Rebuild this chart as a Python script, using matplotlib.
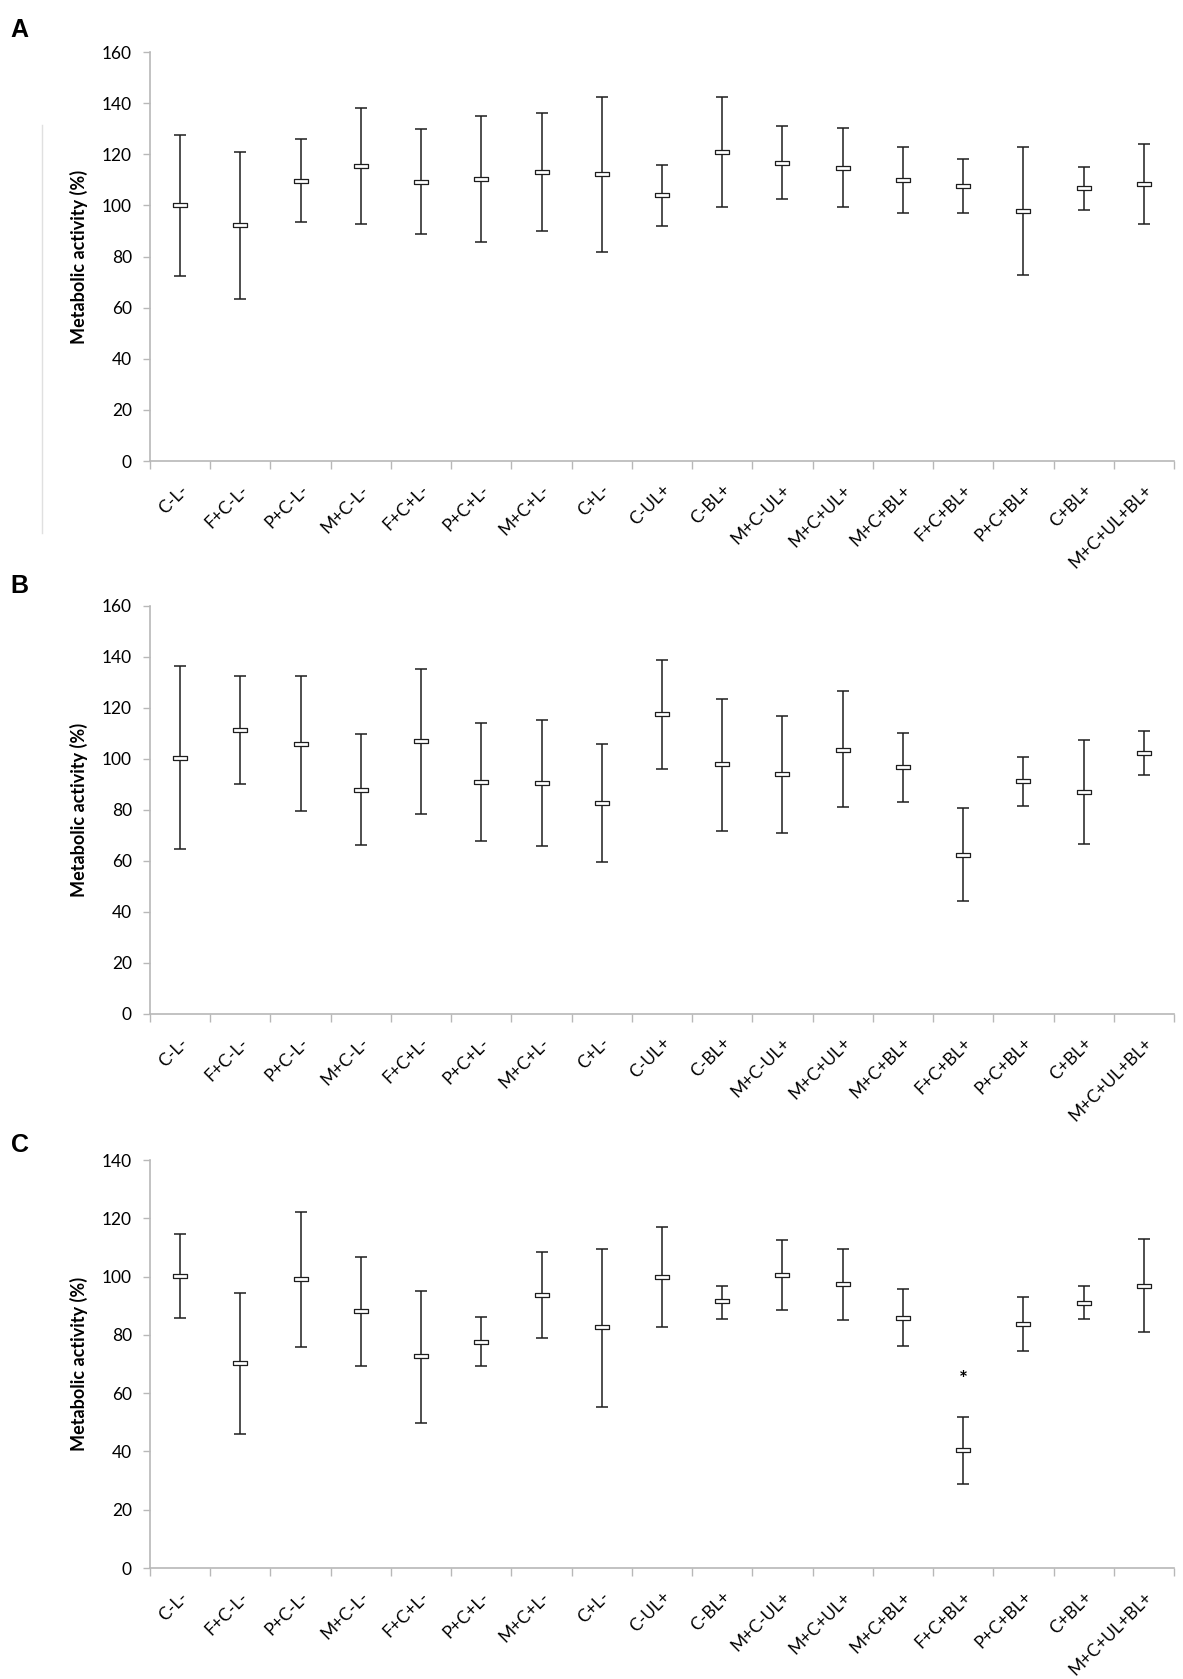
import numpy as np
import matplotlib
matplotlib.use("Agg")
import matplotlib.pyplot as plt
from matplotlib.lines import Line2D

plt.rcParams['font.family'] = ['Lato', 'DejaVu Sans']

groups = ["C-L-", "F+C-L-", "P+C-L-", "M+C-L-", "F+C+L-", "P+C+L-", "M+C+L-",
          "C+L-", "C-UL+", "C-BL+", "M+C-UL+", "M+C+UL+", "M+C+BL+",
          "F+C+BL+", "P+C+BL+", "C+BL+", "M+C+UL+BL+"]

# panel A
mean_a = [100, 92.4, 109.6, 115.6, 109.2, 110.2, 113, 112.2, 104.1, 120.8,
          116.6, 114.8, 110, 107.6, 98, 106.8, 108.4]
low_a = [72.3, 63.5, 93.4, 92.8, 89, 85.8, 90, 81.9, 92.1, 99.4,
         102.4, 99.2, 97.2, 97, 72.9, 98.3, 92.9]
high_a = [127.5, 121, 126, 138, 129.8, 135, 136, 142.4, 115.8, 142.4,
          131, 130.4, 122.9, 118.2, 122.9, 115, 124]

# panel B
mean_b = [100.4, 111.5, 105.8, 88, 107, 91, 90.6, 82.9, 117.6, 97.9,
          94, 103.6, 97, 62.5, 91.2, 87.2, 102.2]
low_b = [64.5, 90, 79.4, 66.3, 78.6, 68, 65.7, 59.5, 96.2, 71.9,
         71, 81, 83, 44.1, 81.7, 66.8, 93.6]
high_b = [136.5, 132.7, 132.5, 109.6, 135.4, 114, 115.2, 105.8, 138.7, 123.7,
          116.7, 126.5, 110.3, 80.8, 100.6, 107.4, 111.1]

# panel C
mean_c = [100.3, 70.2, 99.2, 88.2, 72.6, 77.7, 93.7, 82.6, 99.7, 91.5,
          100.6, 97.3, 85.9, 40.4, 83.8, 91, 96.9]
low_c = [85.8, 46.1, 75.9, 69.2, 49.7, 69.2, 78.9, 55.1, 82.6, 85.5,
         88.7, 85, 76.1, 29, 74.6, 85.5, 80.9]
high_c = [114.6, 94.3, 122.3, 106.6, 95, 86.1, 108.3, 109.6, 116.9, 96.9,
          112.6, 109.6, 95.9, 51.8, 92.9, 96.8, 112.9]
star_c = {"F+C+BL+": 64.4}

panels = [
    ("A", mean_a, low_a, high_a, 160, {}),
    ("B", mean_b, low_b, high_b, 160, {}),
    ("C", mean_c, low_c, high_c, 140, star_c),
]

fig = plt.figure(figsize=(11.83, 16.79), dpi=100)

# axes boxes: left, bottom, width, height (figure fractions)
boxes = [
    [0.1268, 0.7254, 0.8656, 0.2436],
    [0.1268, 0.3961, 0.8656, 0.2430],
    [0.1268, 0.0661, 0.8656, 0.2430],
]
letter_y = [0.982, 0.651, 0.318]

# rectangle marker for the mean
rect = [(-2, -0.5), (2, -0.5), (2, 0.5), (-2, 0.5), (-2, -0.5)]
grey = "#b8b8b8"

for (letter, mean, low, high, ymax, stars), box, ly in zip(panels, boxes, letter_y):
    ax = fig.add_axes(box)
    x = np.arange(len(groups))
    mean = np.array(mean)
    yerr = [mean - np.array(low), np.array(high) - mean]
    ax.errorbar(x, mean, yerr=yerr, fmt="none", ecolor="#1e1e1e",
                elinewidth=1.1, capsize=4, capthick=1.1)
    ax.plot(x, mean, linestyle="none", marker=rect, markersize=10,
            markerfacecolor="white", markeredgecolor="#1e1e1e",
            markeredgewidth=0.9)
    for name, val in stars.items():
        ax.text(groups.index(name), val, "*", ha="center", va="center",
                fontsize=15, fontweight="bold")

    ax.set_xlim(-0.5, len(groups) - 0.5)
    ax.set_ylim(0, ymax)
    ax.set_yticks(np.arange(0, ymax + 1, 20))
    ax.set_xticks(np.arange(-0.5, len(groups), 1.0))
    ax.set_xticklabels([])
    ax.set_xticks(x, minor=True)
    ax.set_xticklabels(groups, minor=True, rotation=45, ha="right",
                       rotation_mode="anchor", fontsize=12.5)
    ax.tick_params(axis="x", which="minor", length=0, pad=15)
    ax.tick_params(axis="x", which="major", length=6, color=grey, width=1)
    ax.tick_params(axis="y", length=5, color=grey, width=1, labelsize=12.5, pad=8)

    for side in ["top", "right"]:
        ax.spines[side].set_visible(False)
    for side in ["left", "bottom"]:
        ax.spines[side].set_color(grey)
        ax.spines[side].set_linewidth(1.2)

    ax.set_ylabel("Metabolic activity (%)", fontsize=13, fontweight="bold",
                  labelpad=10)
    fig.text(0.009, ly, letter, fontsize=18, fontweight="bold",
             family="Liberation Sans", va="center")

# stray thin grey line at the left of panel A
fig.add_artist(Line2D([0.0355, 0.0355], [1 - 125 / 1679, 1 - 533 / 1679],
                      color="#e0e0e0", linewidth=1))

fig.savefig("out.png", dpi=100)
